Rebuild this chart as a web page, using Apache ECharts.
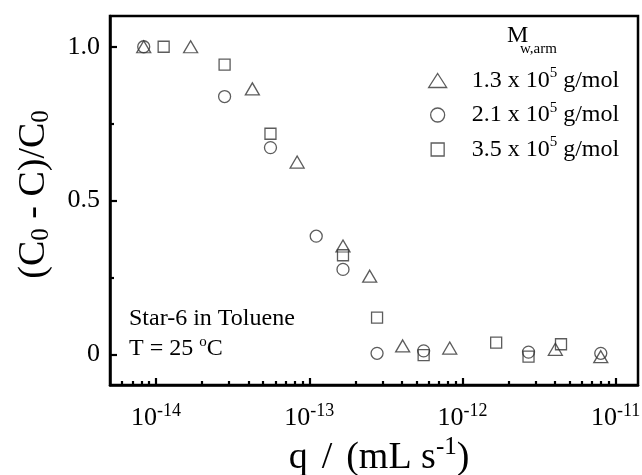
<!DOCTYPE html>
<html>
<head>
<meta charset="utf-8">
<script src="https://cdn.jsdelivr.net/npm/echarts@6/dist/echarts.min.js"></script>
<style>
  html, body { margin: 0; padding: 0; background: #fff; }
  #chart { width: 642px; height: 475px; }
</style>
</head>
<body>
<div id="chart"></div>
<script>
const FONT = '"Liberation Serif", "Times New Roman", serif';
const INK = '#000';
const MARK = '#333';

// Arm molecular weight of each star polymer, in units of 10^5 g/mol
const armMasses = ['1.3', '2.1', '3.5'];
const markerShapes = ['triangle', 'circle', 'rect'];

// Flow rate q (mL/s) and retention (C0 - C)/C0, Mw,arm = 1.3 x 10^5 g/mol
const qLow = [8.3e-15, 1.68e-14, 4.25e-14, 8.33e-14, 1.66e-13, 2.48e-13, 4.07e-13, 8.26e-13, 4.04e-12, 8.0e-12];
const rLow = [1.0, 1.0, 0.863, 0.625, 0.352, 0.254, 0.027, 0.020, 0.016, -0.008];

// Mw,arm = 2.1 x 10^5 g/mol
const qMid = [8.3e-15, 2.8e-14, 5.58e-14, 1.11e-13, 1.66e-13, 2.77e-13, 5.58e-13, 2.7e-12, 8.0e-12];
const rMid = [1.0, 0.838, 0.672, 0.384, 0.276, 0.003, 0.011, 0.007, 0.003];

// Mw,arm = 3.5 x 10^5 g/mol
const qHigh = [1.12e-14, 2.8e-14, 5.58e-14, 1.66e-13, 2.77e-13, 5.58e-13, 1.66e-12, 2.7e-12, 4.4e-12];
const rHigh = [1.0, 0.942, 0.717, 0.322, 0.119, -0.003, 0.038, -0.008, 0.0325];

// Axis ticks
const xMajorTicks = [1e-14, 1e-13, 1e-12, 1e-11];
const xMinorTicks = [
  6e-15, 7e-15, 8e-15, 9e-15,
  2e-14, 3e-14, 4e-14, 5e-14, 6e-14, 7e-14, 8e-14, 9e-14,
  2e-13, 3e-13, 4e-13, 5e-13, 6e-13, 7e-13, 8e-13, 9e-13,
  2e-12, 3e-12, 4e-12, 5e-12, 6e-12, 7e-12, 8e-12, 9e-12
];
const yMajorTicks = [0, 0.5, 1.0];
const yMinorTicks = [0.25, 0.75];

const X_MIN = 5e-15, X_MAX = 1.4e-11;
const Y_MIN = -0.1, Y_MAX = 1.1;

const seriesQ = [qLow, qMid, qHigh];
const seriesR = [rLow, rMid, rHigh];
const seriesNames = armMasses.map(m => m + ' x 10^5 g/mol');
const markerSizes = [[14, 12], 12, 11];
const legendIcon = [[18, 14], [14, 14], [13, 13]];
const legendIconCenterX = 437;
const legendTextLeft = 471;
const legendRowTop = [66, 100.5, 135];

const markStyle = { color: 'transparent', borderColor: MARK, borderWidth: 1.3 };

const supRich = {
  b: { fontFamily: FONT, fontSize: 24, color: INK, lineHeight: 30 },
  sup: { fontFamily: FONT, fontSize: 15, color: INK, lineHeight: 30, padding: [0, 0, 14, 0] }
};

// A bare axis that only draws inward ticks at the given values
function tickAxis(kind, min, max, values, length) {
  return {
    type: kind,
    min: min, max: max,
    position: kind === 'log' ? 'bottom' : 'left',
    axisLine: { show: false, onZero: false },
    axisTick: { show: true, inside: true, length: length, customValues: values, lineStyle: { color: INK, width: 2.2 } },
    axisLabel: { show: false },
    splitLine: { show: false }
  };
}

const chart = echarts.init(document.getElementById('chart'), null, { renderer: 'canvas' });

const series = seriesNames.map((name, i) => ({
  name: name,
  type: 'scatter',
  xAxisIndex: 0,
  yAxisIndex: 0,
  symbol: markerShapes[i],
  symbolSize: markerSizes[i],
  itemStyle: markStyle,
  emphasis: { disabled: true },
  data: seriesQ[i].map((q, k) => [q, seriesR[i][k]])
}));

const legends = seriesNames.map((name, i) => ({
  data: [{ name: name, icon: markerShapes[i] }],
  left: legendIconCenterX - legendIcon[i][0] / 2,
  top: legendRowTop[i],
  padding: 0,
  orient: 'vertical',
  itemWidth: legendIcon[i][0],
  itemHeight: legendIcon[i][1],
  itemStyle: markStyle,
  selectedMode: false,
  formatter: () => '{b|' + armMasses[i] + ' x 10}{sup|5}{b| g/mol}',
  textStyle: {
    fontFamily: FONT,
    color: INK,
    padding: [0, 0, 0, legendTextLeft - (legendIconCenterX + legendIcon[i][0] / 2) - 5],
    rich: supRich
  }
}));

const option = {
  animation: false,
  backgroundColor: '#fff',
  grid: {
    left: 110, top: 16, right: 4, bottom: 90,
    outerBoundsMode: 'none',
    containLabel: false,
    show: true, borderColor: INK, borderWidth: 2.5, backgroundColor: 'transparent'
  },
  legend: legends,
  xAxis: [{
    type: 'log',
    min: X_MIN, max: X_MAX,
    position: 'bottom',
    axisLine: { show: true, onZero: false, lineStyle: { color: INK, width: 2.5 } },
    axisTick: { show: false },
    axisLabel: {
      customValues: xMajorTicks,
      margin: 18,
      formatter: v => '{b|10}{sup|' + Math.round(Math.log10(v)) + '}',
      rich: {
        b: { fontFamily: FONT, fontSize: 26, color: INK, lineHeight: 30 },
        sup: { fontFamily: FONT, fontSize: 18, color: INK, lineHeight: 30, padding: [0, 0, 14, 0] }
      }
    },
    splitLine: { show: false },
    minorTick: { show: false },
    name: '{t|q}{s| }{t|/}{s| }{t|(mL s}{sup|-1}{t|)}',
    nameLocation: 'middle',
    nameGap: 51,
    nameMoveOverlap: false,
    nameTextStyle: {
      padding: [0, 0, 0, 10],
      rich: {
        t: { fontFamily: FONT, fontSize: 38, color: INK, lineHeight: 44 },
        s: { fontFamily: FONT, fontSize: 56, color: INK, lineHeight: 44 },
        sup: { fontFamily: FONT, fontSize: 25, color: INK, lineHeight: 44, padding: [0, 0, 22, 0] }
      }
    }
  },
    tickAxis('log', X_MIN, X_MAX, xMajorTicks, 7),
    tickAxis('log', X_MIN, X_MAX, xMinorTicks, 4)
  ],
  yAxis: [{
    type: 'value',
    min: Y_MIN, max: Y_MAX,
    position: 'left',
    axisLine: { show: true, onZero: false, lineStyle: { color: INK, width: 2.5 } },
    axisTick: { show: false },
    axisLabel: {
      customValues: yMajorTicks,
      margin: 10,
      formatter: v => (v === 0 ? '0' : v.toFixed(1)),
      fontFamily: FONT, fontSize: 26, color: INK
    },
    splitLine: { show: false },
    name: '{t|(C}{sub|0}{t| - C)/C}{sub|0}',
    nameLocation: 'middle',
    nameRotate: 90,
    nameGap: 54,
    nameMoveOverlap: false,
    nameTextStyle: {
      padding: [0, 0, 0, 12],
      rich: {
        t: { fontFamily: FONT, fontSize: 38, color: INK, lineHeight: 44 },
        sub: { fontFamily: FONT, fontSize: 25, color: INK, lineHeight: 44, padding: [14, 0, 0, 0] }
      }
    }
  },
    tickAxis('value', Y_MIN, Y_MAX, yMajorTicks, 7),
    tickAxis('value', Y_MIN, Y_MAX, yMinorTicks, 4)
  ],
  graphic: [
    { type: 'text', left: 507, top: 24, style: { text: 'M', fontFamily: FONT, fontSize: 24, fill: INK } },
    { type: 'text', left: 520, top: 42, style: { text: 'w,arm', fontFamily: FONT, fontSize: 15, fill: INK } },
    { type: 'text', left: 129, top: 307, style: { text: 'Star-6 in Toluene', fontFamily: FONT, fontSize: 24, fill: INK } },
    {
      type: 'text', left: 129, top: 335,
      style: {
        text: '{b|T = 25 }{sup|o}{b|C}',
        rich: {
          b: { fontFamily: FONT, fontSize: 24, fill: INK, lineHeight: 28 },
          sup: { fontFamily: FONT, fontSize: 15, fill: INK, lineHeight: 28, padding: [0, 0, 12, 0] }
        }
      }
    }
  ],
  series: series
};

chart.setOption(option);
</script>
</body>
</html>
